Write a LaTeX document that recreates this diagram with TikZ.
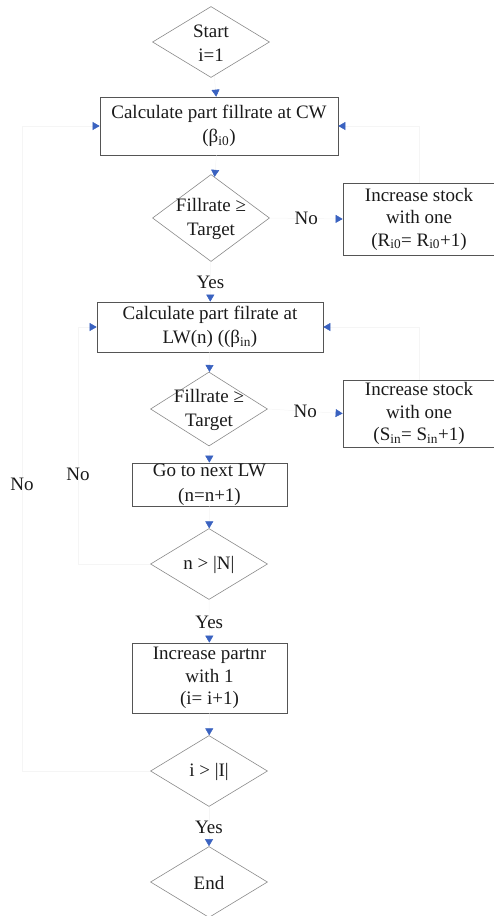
\documentclass[tikz,border=0pt]{standalone}
\usepackage{fontspec}
\setmainfont{Liberation Serif}
\usetikzlibrary{shapes.geometric,arrows.meta}
\definecolor{ablue}{HTML}{3A62C0}
\definecolor{boxc}{HTML}{555555}
\definecolor{diac}{HTML}{8A8A8A}
\definecolor{txt}{HTML}{1A1A1A}
\begin{document}
\begin{tikzpicture}[x=1pt,y=-1pt,
  every node/.style={font=\fontsize{19}{24.5}\selectfont, text=txt},
  box/.style={draw=boxc, line width=0.7pt, rectangle, align=center, inner sep=0pt},
  tight/.style={font=\fontsize{19}{22.5}\selectfont},
  dia/.style={draw=diac, line width=0.6pt, diamond, inner sep=0pt, minimum width=117pt},
  dtext/.style={align=center, text=txt, yshift=-1pt},
  conn/.style={draw=black!4, line width=0.5pt, -{Triangle[length=7pt,width=8pt,color=ablue]}},
  lab/.style={inner sep=1pt}
]
\useasboundingbox (0,0) rectangle (493,916);

% nodes
\node[dia, minimum height=71pt, label={[dtext]center:{Start\\i=1}}] (start) at (211,42) {};
\node[box, minimum width=238pt, minimum height=58pt] (cw) at (219,126)
  {Calculate part fillrate at CW\\(β\textsubscript{i0})};
\node[dia, minimum height=87pt, label={[dtext]center:{Fillrate ≥\\Target}}] (d1) at (211,218) {};
\node[box, tight, minimum width=152pt, minimum height=72pt] (rbox) at (419,219)
  {Increase stock\\with one\\(R\textsubscript{i0}= R\textsubscript{i0}+1)};
\node[box, minimum width=226pt, minimum height=50pt] (lw) at (210,327)
  {Calculate part filrate at\\LW(n) ((β\textsubscript{in})};
\node[dia, minimum height=74pt, label={[dtext]center:{Fillrate ≥\\Target}}] (d2) at (209,409) {};
\node[box, tight, minimum width=152pt, minimum height=67pt] (sbox) at (419,413.5)
  {Increase stock\\with one\\(S\textsubscript{in}= S\textsubscript{in}+1)};
\node[box, minimum width=155pt, minimum height=43pt] (go) at (209.5,484.5)
  {Go to next LW\\(n=n+1)};
\node[dia, minimum height=71pt, label={[dtext]center:{n > |N|}}] (d3) at (209,564) {};
\node[box, tight, minimum width=155pt, minimum height=70pt] (inc) at (209.5,678)
  {Increase partnr\\with 1\\(i= i+1)};
\node[dia, minimum height=71pt, label={[dtext]center:{i > |I|}}] (d4) at (209,771) {};
\node[dia, minimum height=71pt, label={[dtext]center:{End}}] (end) at (209,882) {};

% helper coordinates for loops
\coordinate (c3) at (78,564);
\coordinate (c4) at (22,771);

% connectors
\draw[conn] (start) -- (cw);
\draw[conn] (cw) -- (d1);
\draw[conn] (d1.east) -- node[lab, pos=0.5] (no1) {No} (rbox.west);
\draw[conn] (d1) -- node[lab, pos=0.53] (yes1) {Yes} (lw);
\draw[conn] (rbox.north) |- (cw.east);
\draw[conn] (lw) -- (d2);
\draw[conn] (d2.east) -- node[lab, pos=0.5] (no2) {No} (sbox.west);
\draw[conn] (sbox.north) |- (lw.east);
\draw[conn] (d2) -- (go);
\draw[conn] (go) -- (d3);
\draw[conn] (d3) -- node[lab, pos=0.52] (yes2) {Yes} (inc);
\draw[conn] (inc) -- (d4);
\draw[conn] (d4) -- node[lab, pos=0.52] (yes3) {Yes} (end);
\draw[conn] (d3.west) -- (c3) |- node[lab, pos=0.19] (no3) {No} (lw.west);
\draw[conn] (d4.west) -- (c4) |- node[lab, pos=0.222] (no4) {No} (cw.west);
\end{tikzpicture}
\end{document}
